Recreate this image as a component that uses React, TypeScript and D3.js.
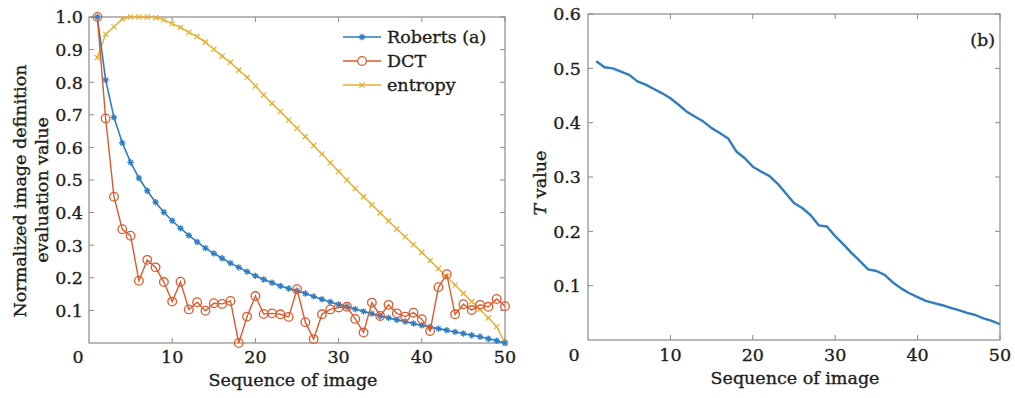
import React from "react";
import * as d3 from "d3";

const seq: number[] = d3.range(1, 51);

const roberts: number[] = [
  1.0, 0.807, 0.692, 0.614, 0.554, 0.506, 0.467, 0.432, 0.401, 0.375,
  0.352, 0.33, 0.31, 0.291, 0.275, 0.26, 0.245, 0.232, 0.219, 0.206,
  0.195, 0.185, 0.175, 0.167, 0.16, 0.152, 0.143, 0.134, 0.126, 0.118,
  0.111, 0.104, 0.097, 0.09, 0.083, 0.077, 0.071, 0.066, 0.06, 0.054,
  0.049, 0.044, 0.039, 0.034, 0.029, 0.024, 0.019, 0.013, 0.007, 0.0,
];

const dct: number[] = [
  1.0, 0.689, 0.449, 0.349, 0.329, 0.191, 0.255, 0.232, 0.187, 0.127,
  0.188, 0.103, 0.125, 0.099, 0.122, 0.12, 0.129, 0.0, 0.081, 0.144,
  0.089, 0.091, 0.088, 0.08, 0.165, 0.064, 0.012, 0.088, 0.103, 0.109,
  0.111, 0.074, 0.032, 0.124, 0.083, 0.117, 0.091, 0.081, 0.093, 0.073,
  0.037, 0.171, 0.211, 0.088, 0.119, 0.101, 0.117, 0.111, 0.135, 0.113,
];

const entropy: number[] = [
  0.876, 0.947, 0.97, 0.994, 1.0, 1.0, 1.0, 0.998, 0.991, 0.979,
  0.968, 0.953, 0.94, 0.923, 0.901, 0.88, 0.861, 0.837, 0.815, 0.788,
  0.761, 0.735, 0.71, 0.684, 0.659, 0.633, 0.606, 0.58, 0.553, 0.526,
  0.5, 0.474, 0.449, 0.424, 0.399, 0.374, 0.35, 0.326, 0.302, 0.278,
  0.253, 0.228, 0.203, 0.178, 0.152, 0.127, 0.103, 0.077, 0.05, 0.0,
];

const tValue: number[] = [
  0.513, 0.502, 0.5, 0.494, 0.488, 0.476, 0.47, 0.462, 0.454, 0.445,
  0.433, 0.42, 0.411, 0.402, 0.39, 0.381, 0.371, 0.347, 0.335, 0.319,
  0.31, 0.302, 0.288, 0.27, 0.252, 0.243, 0.23, 0.211, 0.209, 0.191,
  0.176, 0.16, 0.145, 0.13, 0.127, 0.12, 0.106, 0.095, 0.086, 0.079,
  0.072, 0.068, 0.064, 0.059, 0.055, 0.05, 0.046, 0.04, 0.035, 0.029,
];

const xTicks: number[] = [10, 20, 30, 40, 50];
const leftYTicks: number[] = [0.1, 0.2, 0.3, 0.4, 0.5, 0.6, 0.7, 0.8, 0.9, 1.0];
const rightYTicks: number[] = [0.1, 0.2, 0.3, 0.4, 0.5, 0.6];
const legendLabels: string[] = ["Roberts (a)", "DCT", "entropy"];

const BLUE = "#2f7cc0";
const ORANGE = "#dd5a2c";
const YELLOW = "#e9ae2c";
const AXIS = "#8a8a8a";
const TEXT = "#1e1e1e";
const FONT = "'DejaVu Serif', serif";
const FS = 17.5;

function Asterisk({ x, y, color }: { x: number; y: number; color: string }) {
  const r = 3.2;
  return (
    <g stroke={color} strokeWidth={1.3}>
      <line x1={x - r} y1={y} x2={x + r} y2={y} />
      <line x1={x} y1={y - r} x2={x} y2={y + r} />
      <line x1={x - r * 0.7} y1={y - r * 0.7} x2={x + r * 0.7} y2={y + r * 0.7} />
      <line x1={x - r * 0.7} y1={y + r * 0.7} x2={x + r * 0.7} y2={y - r * 0.7} />
    </g>
  );
}

function Cross({ x, y, color }: { x: number; y: number; color: string }) {
  const r = 2.6;
  return (
    <g stroke={color} strokeWidth={1.2}>
      <line x1={x - r} y1={y - r} x2={x + r} y2={y + r} />
      <line x1={x - r} y1={y + r} x2={x + r} y2={y - r} />
    </g>
  );
}

export default function App() {
  const lx = d3.scaleLinear().domain([0, 50]).range([89, 505]);
  const ly = d3.scaleLinear().domain([0, 1]).range([343, 17]);
  const rx = d3.scaleLinear().domain([0, 50]).range([588, 1000]);
  const ry = d3.scaleLinear().domain([0, 0.6]).range([340, 14]);

  const lineL = (vals: number[]) =>
    d3
      .line<number>()
      .x((_, i) => lx(seq[i]))
      .y((d) => ly(d))(vals) as string;
  const lineR = d3
    .line<number>()
    .x((_, i) => rx(seq[i]))
    .y((d) => ry(d))(tValue) as string;

  const tickLen = 5;
  const textProps = { fontSize: FS, fill: TEXT, stroke: TEXT, strokeWidth: 0.35 };

  return (
    <svg
      width={1015}
      height={398}
      style={{ position: "absolute", left: 0, top: 0, background: "#fff" }}
      fontFamily={FONT}
    >
      <rect x={0} y={0} width={1015} height={398} fill="#fff" />
      {/* ===== Left panel ===== */}
      <g>
        {xTicks.map((t) => (
          <g key={"lxt" + t}>
            <line x1={lx(t)} x2={lx(t)} y1={ly(0)} y2={ly(0) - tickLen} stroke={AXIS} />
            <line x1={lx(t)} x2={lx(t)} y1={ly(1)} y2={ly(1) + tickLen} stroke={AXIS} />
            <text x={lx(t)} y={363} textAnchor="middle" {...textProps}>
              {t}
            </text>
          </g>
        ))}
        {leftYTicks.map((t) => (
          <g key={"lyt" + t}>
            <line x1={lx(0)} x2={lx(0) + tickLen} y1={ly(t)} y2={ly(t)} stroke={AXIS} />
            <line x1={lx(50)} x2={lx(50) - tickLen} y1={ly(t)} y2={ly(t)} stroke={AXIS} />
            <text x={83} y={ly(t)} dy="0.36em" textAnchor="end" {...textProps}>
              {t.toFixed(1)}
            </text>
          </g>
        ))}
        <text x={78} y={363} textAnchor="middle" {...textProps}>
          0
        </text>
        <rect
          x={lx(0)}
          y={ly(1)}
          width={lx(50) - lx(0)}
          height={ly(0) - ly(1)}
          fill="none"
          stroke={AXIS}
          strokeWidth={1.2}
        />
        <path d={lineL(entropy)} fill="none" stroke={YELLOW} strokeWidth={1.4} />
        {entropy.map((v, i) => (
          <Cross key={"e" + i} x={lx(seq[i])} y={ly(v)} color={YELLOW} />
        ))}
        <path d={lineL(roberts)} fill="none" stroke={BLUE} strokeWidth={1.6} />
        {roberts.map((v, i) => (
          <Asterisk key={"r" + i} x={lx(seq[i])} y={ly(v)} color={BLUE} />
        ))}
        <path d={lineL(dct)} fill="none" stroke={ORANGE} strokeWidth={1.4} />
        {dct.map((v, i) => (
          <circle
            key={"d" + i}
            cx={lx(seq[i])}
            cy={ly(v)}
            r={4.3}
            fill="none"
            stroke={ORANGE}
            strokeWidth={1.3}
          />
        ))}
        {legendLabels.map((lab, i) => {
          const y = 37 + i * 24;
          const col = [BLUE, ORANGE, YELLOW][i];
          return (
            <g key={"lg" + i}>
              <line x1={343} x2={381} y1={y} y2={y} stroke={col} strokeWidth={1.5} />
              {i === 0 && <Asterisk x={362} y={y} color={col} />}
              {i === 1 && (
                <circle cx={362} cy={y} r={4.3} fill="#fff" stroke={col} strokeWidth={1.3} />
              )}
              {i === 2 && <Cross x={362} y={y} color={col} />}
              <text x={387} y={y} dy="0.33em" {...textProps}>
                {lab}
              </text>
            </g>
          );
        })}
        <text x={293} y={386} textAnchor="middle" {...textProps}>
          Sequence of image
        </text>
        <text
          transform="translate(20,191) rotate(-90)"
          dy="0.35em"
          textAnchor="middle"
          {...textProps}
        >
          Normalized image definition
        </text>
        <text
          transform="translate(42,190) rotate(-90)"
          dy="0.35em"
          textAnchor="middle"
          {...textProps}
        >
          evaluation value
        </text>
      </g>

      {/* ===== Right panel ===== */}
      <g>
        {xTicks.map((t) => (
          <g key={"rxt" + t}>
            <line x1={rx(t)} x2={rx(t)} y1={ry(0)} y2={ry(0) - tickLen} stroke={AXIS} />
            <line x1={rx(t)} x2={rx(t)} y1={ry(0.6)} y2={ry(0.6) + tickLen} stroke={AXIS} />
            <text x={rx(t)} y={361} textAnchor="middle" {...textProps}>
              {t}
            </text>
          </g>
        ))}
        {rightYTicks.map((t) => (
          <g key={"ryt" + t}>
            <line x1={rx(0)} x2={rx(0) + tickLen} y1={ry(t)} y2={ry(t)} stroke={AXIS} />
            <line x1={rx(50)} x2={rx(50) - tickLen} y1={ry(t)} y2={ry(t)} stroke={AXIS} />
            <text x={581} y={ry(t)} dy="0.36em" textAnchor="end" {...textProps}>
              {t.toFixed(1)}
            </text>
          </g>
        ))}
        <text x={574} y={361} textAnchor="middle" {...textProps}>
          0
        </text>
        <rect
          x={rx(0)}
          y={ry(0.6)}
          width={rx(50) - rx(0)}
          height={ry(0) - ry(0.6)}
          fill="none"
          stroke={AXIS}
          strokeWidth={1.2}
        />
        <path d={lineR} fill="none" stroke={BLUE} strokeWidth={2.4} strokeLinejoin="round" />
        <text x={995} y={40} dy="0.35em" textAnchor="end" {...textProps}>
          (b)
        </text>
        <text x={795} y={384} textAnchor="middle" {...textProps}>
          Sequence of image
        </text>
        <text
          transform="translate(540,183) rotate(-90)"
          dy="0.35em"
          textAnchor="middle"
          {...textProps}
        >
          <tspan fontStyle="italic">T</tspan>
          <tspan> value</tspan>
        </text>
      </g>
    </svg>
  );
}
